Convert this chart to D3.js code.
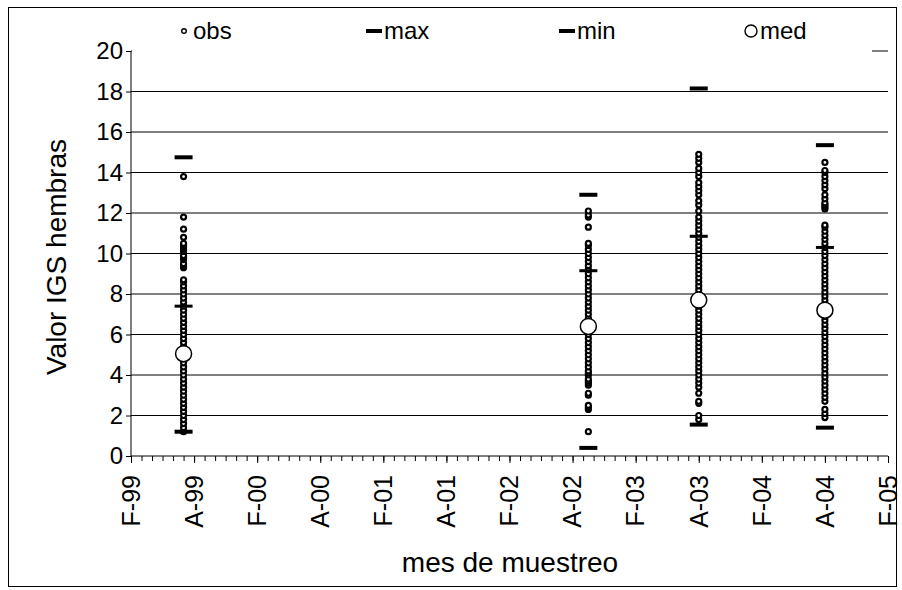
<!DOCTYPE html>
<html><head><meta charset="utf-8">
<script src="https://cdn.jsdelivr.net/npm/d3@7"></script>
<style>body{margin:0;background:#fff}text{font-family:"Liberation Sans",Arial,sans-serif}</style>
</head><body><div id="chart"></div>
<script>
// month offsets from Feb-99
var tickLabels = ["F-99","A-99","F-00","A-00","F-01","A-01","F-02","A-02","F-03","A-03","F-04","A-04","F-05"];
var sampleMonths = [5, 43.5, 54, 66];
var maxVals = [14.75, 12.9, 18.15, 15.35];
var minVals = [1.2, 0.4, 1.55, 1.4];
var medVals = [5.05, 6.4, 7.7, 7.2];
var q3Vals = [7.4, 9.15, 10.85, 10.3];
var obs1 = [1.2,1.4,1.6,1.8,2.0,2.2,2.4,2.6,2.8,3.0,3.2,3.4,3.6,3.8,4.0,4.2,4.4,4.6,4.8,5.0,5.2,5.4,5.6,5.8,6.0,6.2,6.4,6.6,6.8,7.0,7.2,7.4,7.6,7.8,8.0,8.2,8.4,8.6,8.7,
  9.3,9.4,9.5,9.7,9.8,9.9,10.1,10.2,10.3,10.4,10.5,10.8,11.2,11.8,13.8];
var obs2 = [1.2,2.3,2.4,2.5,3.0,3.1,3.5,3.6,3.7,3.8,4.0,4.1,4.2,4.4,4.6,4.8,5.0,5.2,5.4,5.6,5.8,6.0,6.2,6.4,6.6,6.8,7.0,7.2,7.4,7.6,7.8,8.0,8.2,8.4,8.6,8.8,9.0,9.2,9.4,9.6,9.8,10.0,10.2,10.4,10.5,
  11.3,11.8,11.9,12.1];
var obs3 = [1.8,2.0,2.6,2.7,3.1,3.4,3.6,3.8,4.0,4.2,4.4,4.6,4.8,5.0,5.2,5.4,5.6,5.8,6.0,6.2,6.4,6.6,6.8,7.0,7.2,7.4,7.6,7.8,8.0,8.2,8.4,8.6,8.8,9.0,9.2,9.4,9.6,9.8,10.0,10.2,10.4,10.6,10.8,11.0,11.2,11.4,11.6,
  11.8,12.1,12.4,12.6,12.9,13.1,13.3,13.5,13.8,14.0,14.2,14.5,14.7,14.9];
var obs4 = [1.9,2.1,2.3,2.7,2.9,3.1,3.3,3.5,3.7,3.9,4.1,4.3,4.5,4.7,4.9,5.1,5.3,5.5,5.7,5.9,6.1,6.3,6.5,6.7,6.9,7.1,7.3,7.5,7.7,7.9,8.1,8.3,8.5,8.7,8.9,9.1,9.3,9.5,9.7,9.9,10.1,10.3,10.5,10.7,10.9,11.1,11.3,11.4,
  12.2,12.3,12.4,12.5,12.7,12.9,13.2,13.4,13.6,13.8,14.0,14.1,14.5];
var obsAll = [obs1, obs2, obs3, obs4];

var W = 902, H = 590;
var svg = d3.select("#chart").append("svg").attr("width", W).attr("height", H);
svg.append("rect").attr("x", 8.5).attr("y", 7.5).attr("width", 888).attr("height", 579)
  .attr("fill", "none").attr("stroke", "#000").attr("stroke-width", 1);

var x = d3.scaleLinear().domain([0, 72]).range([131, 888]);
var y = d3.scaleLinear().domain([0, 20]).range([456, 51]);

// grid
svg.append("g").selectAll("line").data(d3.range(2, 21, 2)).enter().append("line")
  .attr("x1", 131).attr("x2", 888).attr("y1", d => y(d)).attr("y2", d => y(d))
  .attr("stroke", "#000").attr("stroke-width", 1);

// y axis
var ya = svg.append("g").attr("transform", "translate(131,0)")
  .call(d3.axisLeft(y).tickValues(d3.range(0, 21, 2)).tickSize(5));
ya.attr("font-size", null).attr("font-family", null);
ya.selectAll("text").style("font-size", "24px").attr("x", -8);
ya.select(".domain").attr("d", "M0,51V456");

// x axis minor + major
var xa = svg.append("g").attr("transform", "translate(0,456)")
  .call(d3.axisBottom(x).tickValues(d3.range(0, 73, 1)).tickSize(5).tickFormat(""));
xa.select(".domain").attr("d", "M131,0H888");
var xm = svg.append("g").attr("transform", "translate(0,456)")
  .call(d3.axisBottom(x).tickValues(d3.range(0, 73, 6)).tickSize(7).tickFormat((d, i) => tickLabels[i]));
xm.attr("font-size", null).attr("font-family", null);
xm.select(".domain").remove();
xm.selectAll("text").style("font-size", "25px").attr("transform", "rotate(-90)")
  .attr("x", -19).attr("y", 0).attr("dy", "0.33em").style("text-anchor", "end");

// titles
svg.append("text").attr("transform", "translate(66,257) rotate(-90)").attr("text-anchor", "middle")
  .style("font-size", "28px").text("Valor IGS hembras");
svg.append("text").attr("x", 510).attr("y", 572).attr("text-anchor", "middle")
  .style("font-size", "28px").text("mes de muestreo");

// legend
svg.append("rect").attr("x", 132).attr("y", 16).attr("width", 740).attr("height", 38).attr("fill", "#fff");
var leg = svg.append("g").style("font-size", "24px");
leg.append("circle").attr("cx", 184).attr("cy", 31).attr("r", 2.3).attr("fill", "#fff").attr("stroke", "#000").attr("stroke-width", 1.4);
leg.append("text").attr("x", 193).attr("y", 39).text("obs");
leg.append("rect").attr("x", 366).attr("y", 29).attr("width", 16).attr("height", 4);
leg.append("text").attr("x", 384).attr("y", 39).text("max");
leg.append("rect").attr("x", 559).attr("y", 29).attr("width", 16).attr("height", 4);
leg.append("text").attr("x", 577).attr("y", 39).text("min");
leg.append("circle").attr("cx", 751).attr("cy", 31).attr("r", 6).attr("fill", "#fff").attr("stroke", "#000").attr("stroke-width", 1.4);
leg.append("text").attr("x", 760).attr("y", 39).text("med");

// observations
obsAll.forEach(function (vals, i) {
  svg.append("g").selectAll("circle").data(vals).enter().append("circle")
    .attr("cx", x(sampleMonths[i])).attr("cy", d => y(d)).attr("r", 2.5)
    .attr("fill", "#fff").attr("stroke", "#000").attr("stroke-width", 2.2);
});

// dashes
function dashes(vals, w, h) {
  svg.append("g").selectAll("rect").data(vals).enter().append("rect")
    .attr("x", (d, i) => x(sampleMonths[i]) - w / 2).attr("y", d => y(d) - h / 2)
    .attr("width", w).attr("height", h).attr("fill", "#000");
}
dashes(maxVals, 18, 4);
dashes(minVals, 18, 4);
dashes(q3Vals, 18, 3);

svg.append("g").selectAll("circle").data(medVals).enter().append("circle")
  .attr("cx", (d, i) => x(sampleMonths[i])).attr("cy", d => y(d)).attr("r", 8)
  .attr("fill", "#fff").attr("stroke", "#000").attr("stroke-width", 1.5);
</script></body></html>
